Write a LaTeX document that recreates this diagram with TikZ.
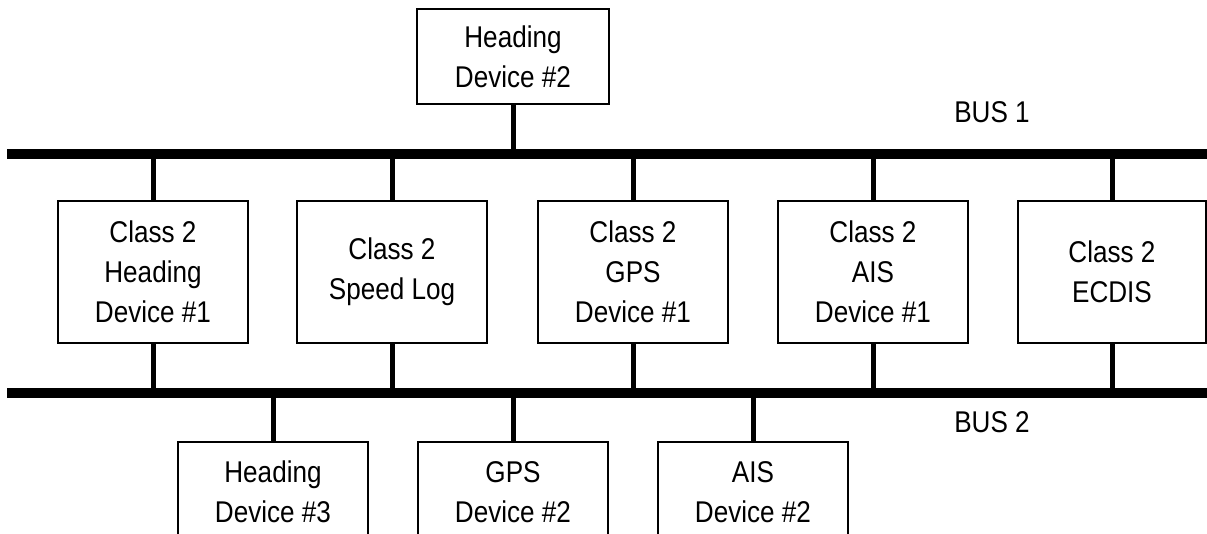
\documentclass[tikz,border=0pt]{standalone}
\usepackage{fontspec}
\newfontfamily\devfont{Liberation Sans}[FakeStretch=0.87]
\usetikzlibrary{calc,positioning}

\begin{document}
\begin{tikzpicture}
[x=1pt,y=-1pt]

    \tikzstyle{devbox}=[draw,line width=1.5pt,minimum width=190pt,
                        minimum height=142pt,inner sep=0pt,align=center,
                        font=\devfont\fontsize{30}{40}\selectfont]
    \tikzstyle{bus}=[line width=10pt]
    \tikzstyle{stem}=[line width=5pt]

    % page, and the lower boxes run off its bottom edge
    \clip (0,0) rectangle (1207,533);

    % the two buses
    \coordinate (b1l) at (7,154);
    \coordinate (b1r) at (1215,154);
    \coordinate (b2l) at (7,393);
    \coordinate (b2r) at (1215,393);
    \draw[bus] (b1l) -- (b1r);
    \draw[bus] (b2l) -- (b2r);
    \node[font=\devfont\fontsize{30}{40}\selectfont] (lbus1) at (992,112) {BUS 1};
    \node[font=\devfont\fontsize{30}{40}\selectfont] (lbus2) at (992,422) {BUS 2};

    % device on bus 1 only
    \node[devbox,minimum width=192pt,minimum height=95pt] (hd2) at (513,56.5)
        {Heading\\Device \#2};

    % class 2 devices on both buses
    \node[devbox] (chd1) at (153,272) {Class 2\\Heading\\Device \#1};
    \node[devbox] (csl)  at (392,272) {Class 2\\Speed Log};
    \node[devbox] (cgps1) at (633,272) {Class 2\\GPS\\Device \#1};
    \node[devbox] (cais1) at (873,272) {Class 2\\AIS\\Device \#1};
    \node[devbox,minimum width=188pt] (cecd) at (1112,272) {Class 2\\ECDIS};

    % devices on bus 2 only
    \node[devbox,minimum height=100pt] (hd3)  at (273,492) {Heading\\Device \#3};
    \node[devbox,minimum height=100pt] (gps2) at (513,492) {GPS\\Device \#2};
    \node[devbox,minimum height=100pt] (ais2) at (753,492) {AIS\\Device \#2};

    % stems
    \draw[stem] (hd2.south) -- (hd2.south |- b1l);
    \foreach \d in {chd1,csl,cgps1,cais1,cecd}
    {
        \draw[stem] (\d.north) -- (\d.north |- b1l);
        \draw[stem] (\d.south) -- (\d.south |- b2l);
    }
    \foreach \d in {hd3,gps2,ais2}
        \draw[stem] (\d.north) -- (\d.north |- b2l);

\end{tikzpicture}
\end{document}
